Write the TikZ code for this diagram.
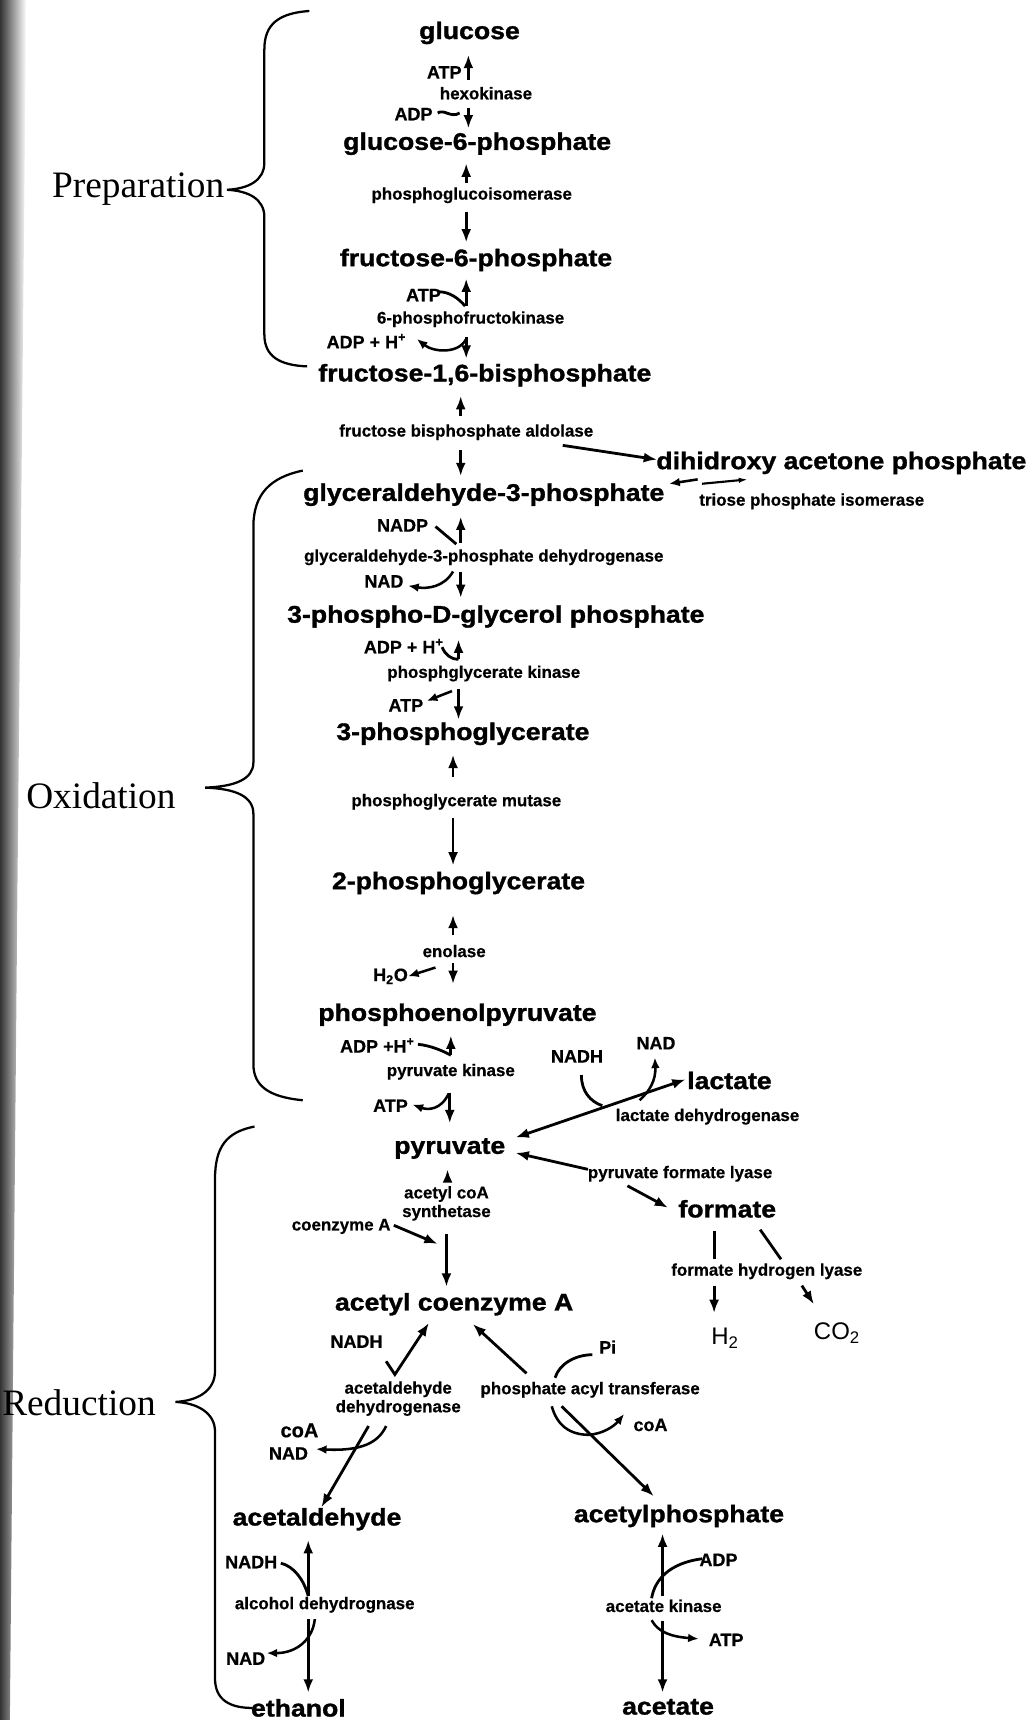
\documentclass[tikz,border=0pt]{standalone}
\usepackage{fontspec}
\setmainfont{Liberation Sans}
\newfontfamily\metff{Liberation Sans Bold}[FakeStretch=1.11,FakeBold=1.3]
\newfontfamily\smallff{Liberation Sans Bold}[FakeBold=0.6]
\newfontfamily\gasff{Liberation Sans}
\newfontfamily\serifff{Liberation Serif}
\usetikzlibrary{arrows.meta}
\tikzset{
 met/.style={inner sep=0pt, font=\metff\fontsize{18}{20}\selectfont},
 enz/.style={inner sep=0pt, font=\smallff\fontsize{12.7}{14}\selectfont},
 cof/.style={inner sep=0pt, font=\smallff\fontsize{13.5}{15}\selectfont},
 gas/.style={inner sep=0pt, font=\gasff\fontsize{18}{20}\selectfont},
 sec/.style={inner sep=0pt, font=\serifff\fontsize{28}{32}\selectfont},
 ln/.style={line width=2.1pt},
 arr/.style={ln, -{Latex[length=10pt,width=7.5pt]}},
 sarr/.style={line width=1.9pt, -{Latex[length=8pt,width=6.5pt]}},
 bracestyle/.style={line width=1.7pt},
}
\begin{document}
\begin{tikzpicture}[x=0.82299pt,y=-0.82299pt]
\useasboundingbox (0,0) rectangle (935,1568);
\shade[left color=black!80,right color=white] (0,0) -- (24,0) -- (16,800) -- (9,1568) -- (0,1568) -- cycle;

% section labels
\node[sec] (prep) at (126,172) {Preparation};
\node[sec] (oxi) at (92,725) {Oxidation};
\node[sec] (red) at (72,1279) {Reduction};

% braces
\draw[bracestyle] (282,10) .. controls (254,12) and (241,22) .. (241,45) -- (241,148)
  .. controls (241,165) and (226,172) .. (207,173) .. controls (226,174) and (241,181) .. (241,198)
  -- (241,305) .. controls (241,325) and (255,333) .. (280,334);
\draw[bracestyle] (276,429) .. controls (247,435) and (231,450) .. (231,480) -- (231,695)
  .. controls (231,710) and (215,717) .. (187,718) .. controls (215,719) and (231,726) .. (231,742)
  -- (231,970) .. controls (231,990) and (245,1000) .. (276,1003);
\draw[bracestyle] (232,1027) .. controls (206,1032) and (196,1046) .. (196,1075) -- (196,1250)
  .. controls (196,1268) and (180,1277) .. (160,1278) .. controls (180,1279) and (196,1288) .. (196,1305)
  -- (196,1530) .. controls (196,1550) and (210,1557) .. (230,1557);

% metabolites
\node[met] (glc) at (428,30) {glucose};
\node[met] (g6p) at (435,131) {glucose-6-phosphate};
\node[met] (f6p) at (434,237) {fructose-6-phosphate};
\node[met] (fbp) at (442,342) {fructose-1,6-bisphosphate};
\node[met] (dhap) at (767,422) {dihidroxy acetone phosphate};
\node[met] (g3p) at (441,451) {glyceraldehyde-3-phosphate};
\node[met] (bpg) at (452,562) {3-phospho-D-glycerol phosphate};
\node[met] (pgA) at (422,669) {3-phosphoglycerate};
\node[met] (pgB) at (418,805) {2-phosphoglycerate};
\node[met] (pep) at (417,925) {phosphoenolpyruvate};
\node[met] (pyr) at (410,1047) {pyruvate};
\node[met] (lac) at (665,985) {lactate};
\node[met] (form) at (663,1102) {formate};
\node[met] (acoa) at (414,1189) {acetyl coenzyme A};
\node[met] (ald) at (289,1385) {acetaldehyde};
\node[met] (acp) at (619,1382) {acetylphosphate};
\node[met] (eth) at (272,1557) {ethanol};
\node[met] (act) at (609,1556) {acetate};
\node[gas] (h2) at (661,1220) {H\textsubscript{2}};
\node[gas] (co2) at (763,1215) {CO\textsubscript{2}};

% enzymes
\node[enz] (hk) at (443,85) {hexokinase};
\node[enz] (pgi) at (430,178) {phosphoglucoisomerase};
\node[enz] (pfk) at (429,291) {6-phosphofructokinase};
\node[enz] (aldo) at (425,394) {fructose bisphosphate aldolase};
\node[enz] (tpi) at (740,457) {triose phosphate isomerase};
\node[enz] (gapdh) at (441,508) {glyceraldehyde-3-phosphate dehydrogenase};
\node[enz] (pgk) at (441,614) {phosphglycerate kinase};
\node[enz] (pgm) at (416,731) {phosphoglycerate mutase};
\node[enz] (eno) at (414,867) {enolase};
\node[enz] (pk) at (411,977) {pyruvate kinase};
\node[enz] (ldh) at (645,1018) {lactate dehydrogenase};
\node[enz] (pfl) at (620,1070) {pyruvate formate lyase};
\node[enz,align=center] (acs) at (407,1097) {acetyl coA\\synthetase};
\node[enz] (fhl) at (699,1159) {formate hydrogen lyase};
\node[enz,align=center] (aldh) at (363,1275) {acetaldehyde\\dehydrogenase};
\node[enz] (pta) at (538,1267) {phosphate acyl transferase};
\node[enz] (adh) at (296,1463) {alcohol dehydrognase};
\node[enz] (ack) at (605,1464) {acetate kinase};
\node[enz] (coenz) at (311,1118) {coenzyme A};

% cofactors
\node[cof] (atpA) at (405,66) {ATP};
\node[cof] (adpA) at (377,104) {ADP};
\node[cof] (atpB) at (386,269) {ATP};
\node[cof] (adpB) at (334,311) {ADP + H\textsuperscript{+}};
\node[cof] (nadp) at (367,479) {NADP};
\node[cof] (nadA) at (350,530) {NAD};
\node[cof] (adpC) at (368,589) {ADP + H\textsuperscript{+}};
\node[cof] (atpC) at (370,643) {ATP};
\node[cof] (h2o) at (356,890) {H\textsubscript{2}O};
\node[cof] (adpD) at (344,953) {ADP +H\textsuperscript{+}};
\node[cof] (atpD) at (356,1008) {ATP};
\node[cof] (nadhA) at (526,963) {NADH};
\node[cof] (nadB) at (598,951) {NAD};
\node[cof] (nadhB) at (325,1223) {NADH};
\node[cof] (pi) at (554,1228) {Pi};
\node[cof,font=\smallff\fontsize{15}{17}\selectfont] (coaA) at (273,1304) {coA};
\node[cof] (nadC) at (263,1325) {NAD};
\node[cof] (coaB) at (593,1299) {coA};
\node[cof] (nadhC) at (229,1424) {NADH};
\node[cof] (nadD) at (224,1512) {NAD};
\node[cof] (adpE) at (655,1422) {ADP};
\node[cof] (atpE) at (662,1495) {ATP};

% glucose -> g6p
\draw[arr] (427,73) -- (427,50);
\draw[arr] (427,98) -- (427,117);
\draw[ln] (399,103) .. controls (405,99) and (411,108) .. (419,103);
% g6p -> f6p
\draw[arr] (425,167) -- (425,149);
\draw[arr] (425,193) -- (425,221);
% f6p -> fbp
\draw[arr] (425,279) -- (425,254);
\draw[ln] (400,266) .. controls (410,266) and (418,272) .. (424,279);
\draw[arr] (425,307) -- (425,327);
\draw[sarr] (425,309) .. controls (418,323) and (395,321) .. (380,309);
% fbp -> g3p / dhap
\draw[arr] (420,379) -- (420,361);
\draw[arr] (420,410) -- (420,434);
\draw[arr] (513,406) -- (599,419);
% triose phosphate isomerase
\draw[sarr] (636,437) -- (610,441);
\draw[line width=1.6pt,-{Latex[length=7pt,width=4pt]}] (640,441) -- (682,437);
% gapdh
\draw[arr] (420,495) -- (420,471);
\draw[ln] (397,480) -- (416,496);
\draw[arr] (420,521) -- (420,545);
\draw[sarr] (413,521) .. controls (405,535) and (390,537) .. (372,534);
% pgk
\draw[arr] (418,601) -- (418,583);
\draw[ln] (403,590) .. controls (406,597) and (411,601) .. (418,601);
\draw[arr] (418,628) -- (418,656);
\draw[sarr] (412,630) -- (389,639);
% pgm
\draw[arr] (413,708) -- (413,688);
\draw[arr] (413,746) -- (413,789);
% enolase
\draw[arr] (413,852) -- (413,834);
\draw[arr] (413,878) -- (413,897);
\draw[sarr] (397,882) -- (372,890);
% pk
\draw[arr] (411,962) -- (411,944);
\draw[ln] (381,952) .. controls (392,953) and (404,958) .. (411,962);
\draw[arr] (410,996) -- (410,1024);
\draw[sarr] (409,997) .. controls (402,1012) and (390,1012) .. (376,1007);
% lactate
\draw[ln,{Latex[length=10pt,width=7.5pt]}-{Latex[length=10pt,width=7.5pt]}] (470,1037) -- (625,984);
\draw[ln] (530,980) .. controls (530,995) and (538,1004) .. (549,1008);
\draw[sarr] (583,1003) .. controls (592,995) and (598,985) .. (597,964);
% formate
\draw[arr] (536,1066) -- (470,1051);
\draw[arr] (572,1081) -- (609,1101);
\draw[ln] (651,1122) -- (651,1148);
\draw[ln] (693,1121) -- (712,1148);
\draw[arr] (651,1172) -- (651,1197);
\draw[arr] (731,1172) -- (742,1189);
% acetyl coA synthetase
\draw[arr] (408,1077) -- (408,1066);
\draw[arr] (359,1117) -- (399,1134);
\draw[arr] (407,1125) -- (407,1173);
% acetaldehyde dehydrogenase
\draw[arr] (352,1241) -- (360,1253) -- (391,1206);
\draw[arr] (336,1300) -- (293,1374);
\draw[sarr] (352,1300) .. controls (345,1315) and (330,1323) .. (288,1321);
% phosphate acyl transferase
\draw[arr] (480,1252) -- (431,1207);
\draw[ln] (506,1256) .. controls (510,1243) and (525,1235) .. (540,1235);
\draw[arr] (512,1282) -- (596,1364);
\draw[sarr] (503,1282) .. controls (508,1300) and (520,1308) .. (537,1308) .. controls (550,1307) and (560,1300) .. (569,1289);
% alcohol dehydrogenase
\draw[arr] (281,1455) -- (281,1404);
\draw[ln] (256,1425) .. controls (268,1428) and (277,1440) .. (281,1455);
\draw[arr] (281,1476) -- (281,1543);
\draw[sarr] (287,1476) .. controls (285,1495) and (270,1507) .. (243,1507);
% acetate kinase
\draw[arr] (604,1455) -- (604,1398);
\draw[ln] (594,1457) .. controls (597,1440) and (610,1425) .. (640,1421);
\draw[arr] (604,1478) -- (604,1543);
\draw[sarr] (594,1477) .. controls (600,1488) and (612,1492) .. (637,1494);
\end{tikzpicture}
\end{document}
